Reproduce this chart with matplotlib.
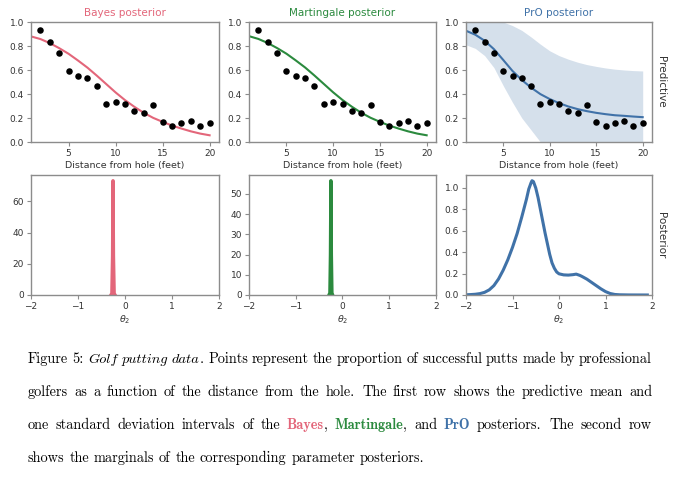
import matplotlib
matplotlib.use('Agg')
import matplotlib.pyplot as plt

# ---------------- data ----------------
distance = [2, 3, 4, 5, 6, 7, 8, 9, 10, 11, 12, 13, 14, 15, 16, 17, 18, 19, 20]
success_rate = [0.933, 0.831, 0.741, 0.589, 0.548, 0.531, 0.463, 0.318, 0.335, 0.316,
                0.257, 0.240, 0.310, 0.168, 0.134, 0.159, 0.173, 0.136, 0.158]

grid_x = [1, 2, 3, 4, 5, 6, 7, 8, 9, 10, 11, 12, 13, 14, 15, 16, 17, 18, 19, 20]
bayes_mean = [0.880, 0.858, 0.824, 0.782, 0.735, 0.679, 0.620, 0.553, 0.483, 0.413,
              0.349, 0.293, 0.243, 0.201, 0.168, 0.137, 0.112, 0.089, 0.070, 0.056]
martingale_mean = [0.882, 0.859, 0.825, 0.783, 0.736, 0.680, 0.621, 0.554, 0.484, 0.414,
                   0.350, 0.294, 0.244, 0.202, 0.168, 0.137, 0.112, 0.089, 0.070, 0.056]
pro_mean = [0.927, 0.894, 0.844, 0.774, 0.684, 0.592, 0.517, 0.453, 0.399, 0.358,
            0.324, 0.296, 0.274, 0.257, 0.243, 0.232, 0.223, 0.218, 0.212, 0.207]
pro_upper = [1.10, 1.08, 1.05, 1.02, 1.00, 0.97, 0.93, 0.875, 0.815, 0.76,
             0.72, 0.69, 0.665, 0.645, 0.63, 0.617, 0.607, 0.60, 0.595, 0.592]
pro_lower = [0.81, 0.78, 0.72, 0.62, 0.47, 0.33, 0.20, 0.10, 0.00, -0.06,
             -0.10, -0.13, -0.15, -0.16, -0.17, -0.175, -0.18, -0.18, -0.18, -0.18]

bayes_theta = [-0.30, -0.28, -0.265, -0.255, -0.245, -0.23, -0.21]
bayes_dens = [0.0, 1.0, 25.0, 73.3, 25.0, 1.0, 0.0]
mart_theta = [-0.29, -0.27, -0.258, -0.248, -0.238, -0.226, -0.21]
mart_dens = [0.0, 1.0, 20.0, 56.5, 20.0, 1.0, 0.0]

pro_theta = [-2.0, -1.9, -1.8, -1.7, -1.6, -1.5, -1.4, -1.3, -1.2, -1.1, -1.0, -0.9, -0.8,
             -0.7, -0.65, -0.6, -0.58, -0.55, -0.5, -0.45, -0.4, -0.35, -0.3, -0.25, -0.2,
             -0.15, -0.1, -0.05, 0.0, 0.1, 0.2, 0.3, 0.37, 0.45, 0.5, 0.6, 0.7, 0.8, 0.9,
             1.0, 1.1, 1.2, 1.3, 1.5, 1.9]
pro_dens = [0.002, 0.004, 0.007, 0.013, 0.025, 0.048, 0.088, 0.150, 0.232, 0.330, 0.445,
            0.575, 0.730, 0.895, 0.990, 1.050, 1.068, 1.060, 1.000, 0.910, 0.800, 0.690,
            0.580, 0.480, 0.380, 0.300, 0.250, 0.215, 0.198, 0.188, 0.186, 0.190, 0.195,
            0.183, 0.172, 0.148, 0.118, 0.088, 0.058, 0.032, 0.014, 0.005, 0.002, 0.0005, 0.0]

titles = ["Bayes posterior", "Martingale posterior", "PrO posterior"]
top_ticks = [5, 10, 15, 20]
bottom_ticks = [-2, -1, 0, 1, 2]
bayes_yticks = [0, 20, 40, 60]
mart_yticks = [0, 10, 20, 30, 40, 50]
pro_yticks = [0.0, 0.2, 0.4, 0.6, 0.8, 1.0]

caption_lines = [
    [[("Figure", "r")], [("5:", "r")], [("Golf", "i")], [("putting", "i")],
     [("data", "i"), (".", "r")], [("Points", "r")], [("represent", "r")], [("the", "r")],
     [("proportion", "r")], [("of", "r")], [("successful", "r")], [("putts", "r")],
     [("made", "r")], [("by", "r")], [("professional", "r")]],
    [[(w, "r")] for w in "golfers as a function of the distance from the hole. The first row shows the predictive mean and".split()],
    [[("one", "r")], [("standard", "r")], [("deviation", "r")], [("intervals", "r")],
     [("of", "r")], [("the", "r")], [("Bayes", "bayes"), (",", "r")],
     [("Martingale", "mart"), (",", "r")], [("and", "r")], [("PrO", "pro")],
     [("posteriors.", "r")], [("The", "r")], [("second", "r")], [("row", "r")]],
    [[(w, "r")] for w in "shows the marginals of the corresponding parameter posteriors.".split()],
]
caption_justify = [True, True, True, False]

# ---------------- style ----------------
C_BAYES = "#e3667a"
C_MART = "#2b8a3e"
C_PRO = "#4072a8"
SPINE = "#8c8c8c"
TXT = "#333333"

W, H = 680, 483
DPI = 100
fig = plt.figure(figsize=(W / DPI, H / DPI), dpi=DPI)


def ax_at(x0, y0, x1, y1):
    return fig.add_axes([x0 / W, 1 - y1 / H, (x1 - x0) / W, (y1 - y0) / H])


def style(ax):
    for s in ax.spines.values():
        s.set_color(SPINE)
        s.set_linewidth(1.0)
    ax.tick_params(labelsize=6.5, labelcolor=TXT, color=SPINE, length=3, width=0.8, pad=2)


lefts = [(31, 219), (249, 436), (466, 652)]
top_axes = [ax_at(l, 22, r, 142) for l, r in lefts]
bot_axes = [ax_at(l, 175, r, 295) for l, r in lefts]

means = [bayes_mean, martingale_mean, pro_mean]
colors = [C_BAYES, C_MART, C_PRO]
for i, ax in enumerate(top_axes):
    style(ax)
    if i == 2:
        ax.fill_between(grid_x, pro_lower, pro_upper, color=C_PRO, alpha=0.22, lw=0)
    ax.plot(grid_x, means[i], color=colors[i], lw=1.5, zorder=2)
    ax.scatter(distance, success_rate, s=22, color="black", zorder=3, lw=0)
    ax.set_xlim(1, 21)
    ax.set_ylim(0, 1)
    ax.set_xticks(top_ticks)
    ax.set_yticks(pro_yticks)
    ax.set_title(titles[i], color=colors[i], fontsize=7.5, pad=4)
    ax.set_xlabel("Distance from hole (feet)", fontsize=6.8, color=TXT, labelpad=2)

dens_sets = [(bayes_theta, bayes_dens, bayes_yticks),
             (mart_theta, mart_dens, mart_yticks),
             (pro_theta, pro_dens, pro_yticks)]
for i, ax in enumerate(bot_axes):
    style(ax)
    th, de, yt = dens_sets[i]
    ax.plot(th, de, color=colors[i], lw=2.4 if i < 2 else 2.2, solid_joinstyle="round")
    ax.set_xlim(-2, 2)
    ax.set_ylim(0, max(de) * 1.05)
    ax.set_xticks(bottom_ticks)
    ax.set_yticks(yt)
    ax.set_xlabel(r"$\theta_2$", fontsize=6.8, color=TXT, labelpad=2)

fig.text(661 / W, 1 - 82 / H, "Predictive", rotation=270, ha="center", va="center",
         fontsize=7.5, color=TXT)
fig.text(661 / W, 1 - 235 / H, "Posterior", rotation=270, ha="center", va="center",
         fontsize=7.5, color=TXT)

# ---------------- caption ----------------
seg_style = {
    "r": dict(family="cmr10", color="black"),
    "i": dict(family="cmmi10", color="black"),
    "bayes": dict(family="cmb10", color=C_BAYES),
    "mart": dict(family="cmb10", color=C_MART),
    "pro": dict(family="cmb10", color=C_PRO),
}
renderer = fig.canvas.get_renderer()


def seg_width(text, st, size):
    t = fig.text(0, 0, text, fontsize=size, **seg_style[st])
    w = t.get_window_extent(renderer).width
    t.remove()
    return w


x_left, x_right = 28, 652
fsize = 10.3
space = fsize * DPI / 72 / 3.0
baselines = [363, 396, 429, 462]
for line, just, yb in zip(caption_lines, caption_justify, baselines):
    widths = [[seg_width(s, st, fsize) for s, st in wd] for wd in line]
    totals = [sum(w) for w in widths]
    weights = []
    for k in range(len(line) - 1):
        last_txt = line[k][-1][0]
        weights.append(1.2 if last_txt.endswith((".", ":")) else 1.0)
    if just:
        unit = (x_right - x_left - sum(totals)) / sum(weights)
    else:
        unit = space
    x = x_left
    for k, wd in enumerate(line):
        xs = x
        for (s, st), w in zip(wd, widths[k]):
            fig.text(xs / W, 1 - yb / H, s, fontsize=fsize, va="baseline", ha="left",
                     **seg_style[st])
            xs += w
        x += totals[k]
        if k < len(weights):
            x += unit * weights[k]

fig.savefig("out.png", dpi=DPI)
